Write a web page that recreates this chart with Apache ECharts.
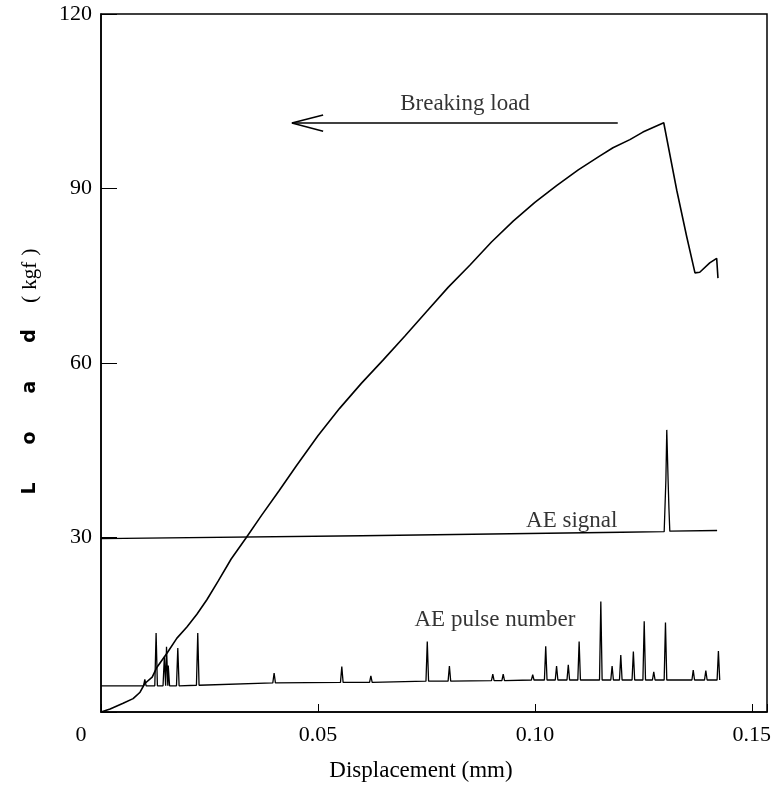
<!DOCTYPE html>
<html>
<head>
<meta charset="utf-8">
<script src="https://cdn.jsdelivr.net/npm/echarts@6/dist/echarts.min.js"></script>
<style>
html,body{margin:0;padding:0;background:#fff;}
#chart{width:778px;height:788px;}
</style>
</head>
<body>
<div id="chart"></div>
<script>
// ---- data ----
const xTickValues = [0, 0.05, 0.10, 0.15];
const yTickValues = [30, 60, 90, 120];

// Load curve (displacement mm, load kgf)
const loadX = [0, 0.0021, 0.0051, 0.0074, 0.0090, 0.0101, 0.0118, 0.0129, 0.0152, 0.0175,
  0.0198, 0.0221, 0.0244, 0.0270, 0.0300, 0.0335, 0.0370, 0.0410, 0.0450, 0.0500,
  0.0550, 0.0600, 0.0650, 0.0700, 0.0750, 0.0800, 0.0850, 0.0900, 0.0950, 0.1000,
  0.1050, 0.1100, 0.1150, 0.1180, 0.1219, 0.1249, 0.1297, 0.1327, 0.1350, 0.1369,
  0.1380, 0.1403, 0.1419, 0.1422];
const loadY = [0, 0.5, 1.5, 2.3, 3.4, 4.9, 6.0, 7.7, 10.1, 12.7,
  14.6, 16.8, 19.3, 22.5, 26.3, 30.0, 33.8, 38.0, 42.3, 47.5,
  52.2, 56.5, 60.5, 64.6, 68.8, 73.0, 76.8, 80.8, 84.4, 87.6,
  90.5, 93.2, 95.6, 97.0, 98.4, 99.7, 101.3, 89.7, 81.7, 75.5,
  75.6, 77.2, 78.0, 74.6];

// AE signal trace
const sigX = [0, 0.060, 0.120, 0.1298, 0.1302, 0.1304, 0.1307, 0.1309, 0.1311, 0.1420];
const sigY = [29.8, 30.3, 30.9, 31.0, 40.0, 48.5, 40.0, 35.0, 31.1, 31.2];

// AE pulse number spikes: position, peak, local baseline
const pulseX = [0.0101, 0.0127, 0.0146, 0.0151, 0.0155, 0.0177, 0.0223, 0.0399, 0.0555, 0.0622,
  0.0752, 0.0803, 0.0903, 0.0927, 0.0995, 0.1025, 0.1050, 0.1077, 0.1102, 0.1152,
  0.1178, 0.1198, 0.1227, 0.1252, 0.1274, 0.1301, 0.1365, 0.1394, 0.1423];
const pulseTop = [5.6, 13.6, 9.5, 11.2, 8.0, 11.0, 13.6, 6.7, 7.8, 6.2,
  12.1, 7.9, 6.5, 6.5, 6.4, 11.3, 7.9, 8.1, 12.1, 19.0,
  7.9, 9.8, 10.4, 15.6, 6.9, 15.4, 7.2, 7.1, 10.5];
const pulseBase = [4.5, 4.5, 4.5, 4.5, 4.5, 4.5, 4.6, 5.0, 5.1, 5.1,
  5.3, 5.3, 5.4, 5.4, 5.5, 5.5, 5.5, 5.5, 5.5, 5.5,
  5.5, 5.5, 5.5, 5.5, 5.5, 5.5, 5.5, 5.5, 5.5];
const pulseStart = [0, 4.5];
const pulseEnd = [0.1427, 5.5];
const pulseHalfWidth = 0.0003;

// Annotations
const noteText = ['Breaking load', 'AE signal', 'AE pulse number'];
const noteX = [0.0839, 0.1085, 0.0908];
const noteY = [104.6, 32.9, 15.8];

// Breaking-load arrow (tail x, tip x, y, head end x, head half spread)
const arrowTailX = 0.1191;
const arrowTipX = 0.0440;
const arrowY = 101.25;
const arrowHeadX = 0.0512;
const arrowHeadDy = 1.4;

// ---- build series ----
const loadData = loadX.map((x, i) => [x, loadY[i]]);
const sigData = sigX.map((x, i) => [x, sigY[i]]);
const pulseData = [pulseStart];
pulseX.forEach((x, i) => {
  pulseData.push([x - pulseHalfWidth, pulseBase[i]]);
  pulseData.push([x, pulseTop[i]]);
  pulseData.push([x + pulseHalfWidth, pulseBase[i]]);
});
pulseData.push(pulseEnd);
const noteData = noteText.map((t, i) => [noteX[i], noteY[i], t]);

const serif = '"Liberation Serif", "Times New Roman", serif';

const chart = echarts.init(document.getElementById('chart'), null, {renderer: 'canvas'});
chart.setOption({
  animation: false,
  backgroundColor: '#fff',
  grid: {left: 101, right: 11, top: 14, bottom: 76, show: true, borderColor: '#000', borderWidth: 1.5, backgroundColor: 'transparent'},
  xAxis: {
    type: 'value', min: 0, max: 0.1535, interval: 0.05,
    name: 'Displacement (mm)', nameLocation: 'middle', nameGap: 47,
    nameTextStyle: {fontFamily: serif, fontSize: 23, color: '#000', padding: [0, 26, 0, 0]},
    axisLine: {show: true, lineStyle: {color: '#000', width: 1.5}},
    axisTick: {show: true, inside: true, length: 8, lineStyle: {color: '#000'}},
    splitLine: {show: false},
    axisLabel: {
      margin: 12, fontFamily: serif, fontSize: 22, color: '#000',
      formatter: function (v) {
        const hit = xTickValues.find(t => Math.abs(t - v) < 1e-6);
        if (hit === undefined) return '';
        if (hit === 0) return '{o|0}';
        return hit.toFixed(2);
      },
      rich: {o: {fontFamily: serif, fontSize: 22, color: '#000', padding: [0, 40, 0, 0]}}
    }
  },
  yAxis: {
    type: 'value', min: 0, max: 120, interval: 30,
    name: '{l|L}{l|o}{l|a}{d|d}{q|(}{k|kgf}{e|)}', nameLocation: 'middle', nameGap: 60,
    nameTextStyle: {
      fontSize: 20, color: '#000',
      rich: {
        l: {fontFamily: '"DejaVu Sans", sans-serif', fontWeight: 'bold', fontSize: 19, color: '#000', padding: [0, 19, 0, 19]},
        d: {fontFamily: '"DejaVu Sans", sans-serif', fontWeight: 'bold', fontSize: 19, color: '#000', padding: [0, 26, 0, 19]},
        q: {fontFamily: serif, fontSize: 22, color: '#000', padding: [0, 6, 0, 0]},
        k: {fontFamily: serif, fontSize: 21, color: '#000'},
        e: {fontFamily: serif, fontSize: 22, color: '#000', padding: [0, 36, 0, 6]}
      }
    },
    axisLine: {show: true, lineStyle: {color: '#000', width: 1.5}},
    axisTick: {show: true, inside: true, length: 16, lineStyle: {color: '#000'}},
    splitLine: {show: false},
    axisLabel: {
      margin: 9, fontFamily: serif, fontSize: 22, color: '#000',
      formatter: function (v) {
        return yTickValues.indexOf(v) >= 0 ? String(v) : '';
      }
    }
  },
  series: [
    {
      name: 'Load', type: 'line', data: loadData, symbol: 'none', smooth: false,
      lineStyle: {color: '#000', width: 1.6}, emphasis: {disabled: true}, silent: true,
      markLine: {
        silent: true, symbol: ['none', 'none'], label: {show: false},
        lineStyle: {color: '#000', width: 1.5, type: 'solid'},
        emphasis: {disabled: true},
        data: [
          [{coord: [arrowTailX, arrowY]}, {coord: [arrowTipX, arrowY]}],
          [{coord: [arrowTipX, arrowY]}, {coord: [arrowHeadX, arrowY + arrowHeadDy]}],
          [{coord: [arrowTipX, arrowY]}, {coord: [arrowHeadX, arrowY - arrowHeadDy]}]
        ]
      }
    },
    {
      name: 'AE signal', type: 'line', data: sigData, symbol: 'none',
      lineStyle: {color: '#000', width: 1.3}, emphasis: {disabled: true}, silent: true
    },
    {
      name: 'AE pulse number', type: 'line', data: pulseData, symbol: 'none',
      lineStyle: {color: '#000', width: 1.3}, emphasis: {disabled: true}, silent: true
    },
    {
      name: 'notes', type: 'scatter', data: noteData, symbolSize: 1,
      itemStyle: {color: 'rgba(0,0,0,0)'}, silent: true,
      label: {
        show: true, position: 'inside', fontFamily: serif, fontSize: 23, color: '#000',
        textBorderWidth: 0, textShadowBlur: 0,
        formatter: p => p.value[2]
      }
    }
  ]
});
</script>
</body>
</html>
